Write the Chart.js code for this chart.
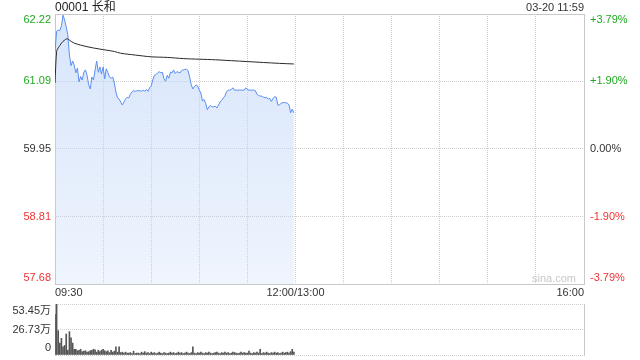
<!DOCTYPE html>
<html><head><meta charset="utf-8">
<script src="https://cdn.jsdelivr.net/npm/chart.js@4.4.1/dist/chart.umd.min.js"></script>
<style>
html,body{margin:0;padding:0;background:#fff;width:640px;height:360px;overflow:hidden;font-family:'Liberation Sans',Arial,'Noto Sans CJK SC',sans-serif;}
#wrap{position:relative;width:640px;height:360px;}
canvas{position:absolute;left:0;}
#c1{top:0;width:640px;height:300px;}
#c2{top:300px;width:640px;height:60px;}
.txt{position:absolute;white-space:nowrap;}
#title{left:55px;top:0px;font-size:12px;line-height:15px;color:#222;}
#stamp{right:56px;top:1px;font-size:11px;line-height:13px;color:#333;}
#wm{left:532px;top:272px;font-size:11px;line-height:13px;color:#c8c8c8;}
</style></head>
<body><div id="wrap">
<canvas id="c1" width="640" height="300"></canvas>
<canvas id="c2" width="640" height="60"></canvas>
<div class="txt" id="title"></div>
<div class="txt" id="stamp"></div>
<div class="txt" id="wm">sina.com</div>
</div>
<script>
const stockCode = '00001';
const stockName = '长和';
const stamp = '03-20 11:59';
const prevClose = 59.95;
const priceTicks = [57.68, 58.81, 59.95, 61.09, 62.22];
const pctTicks = [-3.79, -1.90, 0, 1.90, 3.79];
const pctLabels = ['-3.79%', '-1.90%', '0.00%', '+1.90%', '+3.79%'];
const timeTickMinutes = [0, 30, 60, 90, 120, 150, 180, 210, 240, 270, 300, 330];
const timeTickLabels = ['09:30', '', '', '', '', '12:00/13:00', '', '', '', '', '', '16:00'];
const volTicks = [0, 26.73, 53.45];
const volLabels = ['0', '26.73万', '53.45万'];

// minute-by-minute price, 09:30 .. 11:59
const prices = [
61.58,61.93,61.95,61.94,62.02,62.20,62.12,62.00,61.87,61.53,
61.35,61.43,61.36,61.23,61.31,61.08,61.17,61.11,61.24,61.28,
61.19,61.03,60.96,61.16,61.11,61.28,61.43,61.24,61.33,61.21,
61.33,61.13,61.30,61.23,61.16,61.14,61.16,61.06,60.91,60.81,
60.79,60.74,60.69,60.74,60.79,60.82,60.81,60.87,60.91,60.93,
60.92,60.93,60.93,60.93,60.92,60.94,60.92,60.95,60.92,60.98,
61.01,61.11,61.19,61.20,61.23,61.25,61.23,61.24,61.13,61.09,
61.19,61.14,61.24,61.23,61.28,61.22,61.25,61.24,61.23,61.27,
61.28,61.29,61.29,61.27,61.16,61.03,60.96,61.00,61.03,61.01,
60.94,60.89,60.76,60.78,60.72,60.61,60.66,60.68,60.66,60.66,
60.67,60.64,60.69,60.74,60.77,60.81,60.84,60.91,60.94,60.94,
60.95,60.98,60.94,60.94,60.94,60.94,60.94,60.94,60.94,60.98,
60.95,60.94,60.94,60.94,60.94,60.93,60.87,60.85,60.84,60.84,
60.82,60.81,60.82,60.79,60.80,60.75,60.80,60.83,60.82,60.69,
60.69,60.72,60.73,60.73,60.73,60.72,60.69,60.56,60.62,60.56
];

// average price line, read at selected minutes
const avgMinutes = [0, 1, 2, 3, 4, 5, 6, 7, 8, 9, 12, 20, 28, 37, 41, 50, 60, 70, 80, 90, 100, 120, 140, 149];
const avgValues  = [61.06, 61.59, 61.65, 61.69, 61.73, 61.76, 61.78, 61.80, 61.80, 61.78, 61.73, 61.67, 61.63, 61.59, 61.56, 61.53, 61.50, 61.49, 61.47, 61.46, 61.45, 61.42, 61.39, 61.38];

// volume per minute (万)
const volumes = [
42.5,53.45,25.5,12.5,17.5,8.5,10,22,5,24.5,
18,12.5,6,6,4.5,5,6,3.5,4,4.5,
3,3.5,4.5,5,6,5.5,3,5,3.5,5,
6,4.5,3.5,4.5,2.5,5,3,4,8.5,3,
8.5,2.5,3,2,3,2,2,2.5,1.5,4,
1.5,2,2,1.5,3,2,3.5,2,2.5,1.5,
3,2,2.5,1.5,2,3,2,1.5,2.5,2,
1.5,2,3,2,2.5,1.5,2,3,2,2.5,
1.5,2,3,2,1.5,2.5,8.5,2,1.5,2.5,
2,3,2,1.5,2.5,2,3,2,1.5,2,
2.5,3,2,1.5,2.5,2,3,2,2.5,1.5,
2,3,2.5,2,1.5,2,3,2,2.5,2,
2,4,2,1.5,2.5,2,3,2,6,1.5,
2.5,2,3,2,1.5,2.5,2,3,2,2.5,
1.5,2,3,2,2.5,3,2,3.5,6,3
];

document.getElementById('title').textContent = stockCode + ' ' + stockName;
document.getElementById('stamp').textContent = stamp;

const GREEN = '#20a820', RED = '#ee3333', DARK = '#333333', GRID = '#cfcfcf', BORDER = '#c8c8c8', CLEAR = 'rgba(0,0,0,0)';
Chart.defaults.font.family = "'Liberation Sans', Arial, 'Noto Sans CJK SC', sans-serif";
Chart.defaults.font.size = 11;
Chart.defaults.color = DARK;

const priceColor = v => v > prevClose + 1e-9 ? GREEN : (v < prevClose - 1e-9 ? RED : DARK);
const pctColor = v => v > 1e-9 ? GREEN : (v < -1e-9 ? RED : DARK);
const edgeLabel = (txt, i, n) => i === n - 1 ? ['', txt] : (i === 0 ? [txt, ''] : txt);

new Chart(document.getElementById('c1'), {
  type: 'line',
  data: { datasets: [
    { label: '均价', data: avgMinutes.map((m, i) => ({ x: m, y: avgValues[i] })),
      borderColor: '#2a2a2a', borderWidth: 1, pointRadius: 0, fill: false, tension: 0.3, order: 0 },
    { label: '价格', data: prices.map((p, i) => ({ x: i, y: p })),
      borderColor: '#5b8ef0', borderWidth: 1, pointRadius: 0, tension: 0, order: 1, fill: 'start',
      backgroundColor: (ctx) => {
        const a = ctx.chart.chartArea;
        if (!a) return 'rgba(200,220,250,0.5)';
        const g = ctx.chart.ctx.createLinearGradient(0, a.top, 0, a.bottom);
        g.addColorStop(0, 'rgba(190,212,248,0.62)');
        g.addColorStop(1, 'rgba(190,212,248,0.24)');
        return g;
      } }
  ]},
  options: {
    responsive: false, animation: false, devicePixelRatio: 1,
    layout: { padding: { top: 14, left: 0, right: 0, bottom: 0 }, autoPadding: false },
    plugins: { legend: { display: false }, tooltip: { enabled: false } },
    scales: {
      x: { type: 'linear', position: 'bottom', min: 0, max: 330,
        afterBuildTicks: s => { s.ticks = timeTickMinutes.map(v => ({ value: v })); },
        afterFit: s => { s.height = 16; s.paddingLeft = 0; s.paddingRight = 0; },
        ticks: { autoSkip: false, maxRotation: 0, minRotation: 0, align: 'inner', padding: 2, color: DARK,
          callback: (v, i) => timeTickLabels[i] },
        grid: { drawTicks: false, color: c => (c.index === 0 || c.index === timeTickMinutes.length - 1) ? CLEAR : GRID },
        border: { color: BORDER, dash: [1, 1] } },
      xTop: { type: 'linear', position: 'top', min: 0, max: 330,
        ticks: { display: false }, grid: { drawOnChartArea: false, drawTicks: false },
        border: { color: BORDER }, afterFit: s => { s.height = 0; } },
      y: { type: 'linear', position: 'left', min: 57.68, max: 62.22,
        afterBuildTicks: s => { s.ticks = priceTicks.map(v => ({ value: v })); },
        afterFit: s => { s.width = 55; s.paddingTop = 0; s.paddingBottom = 0; },
        ticks: { autoSkip: false, padding: 4, font: { size: 11, lineHeight: 1.1 }, color: c => priceColor(c.tick.value),
          callback: (v, i) => edgeLabel(priceTicks[i].toFixed(2), i, priceTicks.length) },
        grid: { drawTicks: false, color: c => (c.index === 0 || c.index === priceTicks.length - 1) ? CLEAR : GRID },
        border: { color: BORDER, dash: [1, 1] } },
      yPct: { type: 'linear', position: 'right', min: -3.79, max: 3.79,
        afterBuildTicks: s => { s.ticks = pctTicks.map(v => ({ value: v })); },
        afterFit: s => { s.width = 56; s.paddingTop = 0; s.paddingBottom = 0; },
        ticks: { autoSkip: false, padding: 6, font: { size: 11, lineHeight: 1.1 }, color: c => pctColor(c.tick.value),
          callback: (v, i) => edgeLabel(pctLabels[i], i, pctTicks.length) },
        grid: { drawOnChartArea: false, drawTicks: false },
        border: { color: BORDER } }
    }
  }
});

new Chart(document.getElementById('c2'), {
  type: 'bar',
  data: { datasets: [
    { label: '成交量', data: volumes.map((v, i) => ({ x: i, y: v })),
      backgroundColor: '#555555', borderWidth: 0, barThickness: 1 }
  ]},
  options: {
    responsive: false, animation: false, devicePixelRatio: 1,
    layout: { padding: { top: 4, left: 0, right: 0, bottom: 5 }, autoPadding: false },
    plugins: { legend: { display: false }, tooltip: { enabled: false } },
    scales: {
      x: { type: 'linear', min: 0, max: 330, offset: false, display: false },
      y: { type: 'linear', position: 'left', min: 0, max: 53.45,
        afterBuildTicks: s => { s.ticks = volTicks.map(v => ({ value: v })); },
        afterFit: s => { s.width = 55; s.paddingTop = 0; s.paddingBottom = 0; },
        ticks: { autoSkip: false, padding: 4, font: { size: 11, lineHeight: 1.35 }, color: DARK,
          callback: (v, i) => edgeLabel(volLabels[i], i, volTicks.length) },
        grid: { drawTicks: false, color: GRID },
        border: { color: BORDER, dash: [1, 1] } },
      yR: { type: 'linear', position: 'right', min: 0, max: 53.45,
        ticks: { display: false }, grid: { drawOnChartArea: false, drawTicks: false },
        border: { color: BORDER }, afterFit: s => { s.width = 56; } }
    }
  }
});
</script>
</body></html>
